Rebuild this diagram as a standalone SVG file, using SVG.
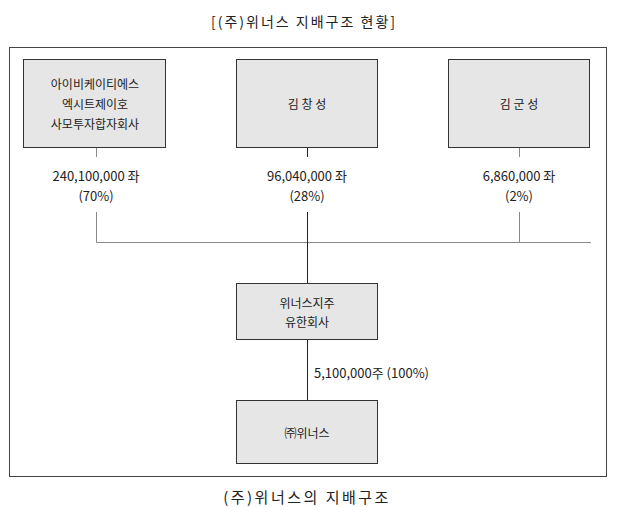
<svg xmlns="http://www.w3.org/2000/svg" width="621" height="507" viewBox="0 0 621 507">
<style>
text{font-family:"Noto Sans CJK KR","Noto Sans",sans-serif;font-size:12px;fill:#222;text-anchor:middle;dominant-baseline:central}
.n{font-size:13px}
.box{fill:#e6e6e6;stroke:#333;stroke-width:1}
.g{stroke:#8a8a8a;stroke-width:1;fill:none}
.k{stroke:#222;stroke-width:1;fill:none}
</style>
<rect width="621" height="507" fill="#fff"/>
<text x="304" y="21" style="font-size:14px;letter-spacing:2px">[(주)위너스 지배구조 현황]</text>
<rect x="9.5" y="47.5" width="597" height="429" fill="none" stroke="#444" stroke-width="1"/>
<g id="connectors">
<path class="g" d="M96.5 147v10M96.5 212v30.5H591"/>
<path class="g" d="M519.5 147v10M519.5 212v30.5"/>
<path class="k" d="M307.5 147v10M307.5 212v71M307.5 339v61"/>
</g>
<g id="n1"><rect class="box" x="23.5" y="59.5" width="142" height="88"/>
<text x="95" y="83">아이비케이티에스</text><text x="95" y="103">엑시트제이호</text><text x="95" y="123">사모투자합자회사</text>
<text class="n" x="96" y="175">240,100,000 좌</text><text class="n" x="96" y="195">(70%)</text></g>
<g id="n2"><rect class="box" x="236.5" y="59.5" width="141" height="88"/>
<text x="307" y="103">김 창 성</text>
<text class="n" x="307" y="175">96,040,000 좌</text><text class="n" x="307" y="195">(28%)</text></g>
<g id="n3"><rect class="box" x="448.5" y="59.5" width="141" height="88"/>
<text x="519" y="103">김 군 성</text>
<text class="n" x="519" y="175">6,860,000 좌</text><text class="n" x="519" y="195">(2%)</text></g>
<g id="n4"><rect class="box" x="236.5" y="283.5" width="141" height="56"/>
<text x="307" y="302">위너스지주</text><text x="307" y="321">유한회사</text></g>
<text class="n" x="314" y="372" style="text-anchor:start">5,100,000주 (100%)</text>
<g id="n5"><rect class="box" x="236.5" y="400.5" width="141" height="63"/>
<text x="307" y="432">㈜위너스</text></g>
<text x="307" y="496" style="font-size:15px;letter-spacing:2.5px">(주)위너스의 지배구조</text>
</svg>
